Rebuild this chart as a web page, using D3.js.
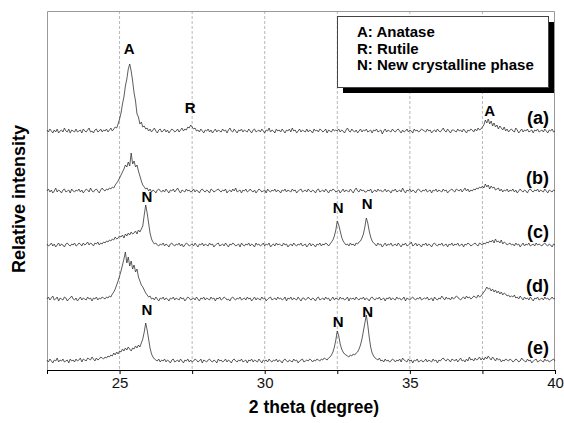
<!DOCTYPE html>
<html>
<head>
<meta charset="utf-8">
<script src="https://cdn.jsdelivr.net/npm/d3@7"></script>
<style>
  body { margin: 0; background: #fff; }
  svg { font-family: "Liberation Sans", Arial, sans-serif; }
</style>
</head>
<body>
<div id="chart"></div>
<script>
// 2 theta grid: 22.5 .. 40.0 in 0.05 degree steps (20 values per degree row)
const thetaStart = 22.5;
const thetaStep = 0.05;

// relative intensity (baseline removed)
const traceA = [
  1,-1,2,0,-2,1,-1,2,-2,0,1,-1,3,0,-1,2,-2,1,0,-1,
  2,-1,0,1,-2,2,0,-1,1,3,-1,0,-2,1,2,-1,0,2,-1,1,
  0,2,-1,1,3,0,2,4,3,7,12,18,27,34,45,52,62,67,60,50,
  38,30,17,14,7,9,4,5,2,3,0,2,-1,1,3,0,-2,1,2,-1,
  0,2,-1,1,-2,0,2,1,-1,0,2,-1,1,3,0,2,1,4,3,6,
  4,2,3,0,1,-1,2,0,-2,1,0,2,-1,1,-2,0,2,-1,1,0,
  -1,2,0,1,-2,1,3,0,-1,2,0,-2,1,0,2,-1,1,0,-1,2,
  0,-2,1,2,-1,0,1,-1,2,0,-2,1,0,3,-1,1,0,-2,2,0,
  1,-1,2,0,-2,1,0,2,-1,3,0,1,-2,0,2,-1,1,0,-1,2,
  -1,1,0,-2,2,0,1,-1,2,1,-1,0,2,-2,1,0,-1,2,0,1,
  0,2,-1,1,0,-2,1,3,0,-1,2,0,-1,1,-2,0,2,-1,1,0,
  2,-1,0,1,-2,1,0,2,-1,0,1,-3,0,2,-1,1,0,-1,2,0,
  -1,1,2,0,-2,1,-1,0,2,-1,1,0,-2,2,0,1,-1,0,2,1,
  0,-1,2,0,1,-2,0,1,-1,2,0,-1,1,3,0,-1,2,0,-2,1,
  1,0,-1,2,0,1,-1,2,0,-2,1,0,2,1,-1,2,0,3,1,2,
  4,6,11,8,12,7,10,5,8,4,6,2,5,3,1,4,0,2,-1,1,
  2,0,-1,3,1,-2,0,2,-1,1,0,2,-1,0,1,-2,1,0,2,-1,
  0,1,-1,2,0,-2,1,0,2,-1,0
];
const traceB = [
  0,2,-1,1,-2,0,3,-1,1,0,-2,1,2,-1,0,1,-2,2,0,-1,
  1,0,2,-1,1,-2,0,2,1,-1,3,0,-1,1,2,0,-2,1,3,1,
  0,2,1,3,2,4,3,6,8,10,13,16,19,22,26,24,29,25,38,27,
  30,24,26,20,15,10,6,4,2,3,0,2,-1,1,0,-2,1,2,0,-1,
  1,-1,2,0,-2,1,0,2,-1,1,3,0,-2,1,0,-1,2,0,1,-1,
  0,2,-1,1,0,-2,1,2,0,-1,1,0,-2,2,1,-1,0,1,2,0,
  -1,1,0,2,-2,0,1,-1,2,0,3,-1,0,1,-2,1,0,2,-1,0,
  2,0,-1,1,-2,0,2,1,-1,0,1,-2,2,0,-1,1,0,2,-1,1,
  0,-2,1,0,2,-1,1,0,-1,2,0,1,-2,0,1,2,-1,0,1,-1,
  2,0,-1,1,0,-2,1,2,-1,0,1,-1,2,0,-2,1,0,2,1,-1,
  0,1,-2,0,2,-1,1,0,-1,2,0,-2,1,3,0,-1,2,0,1,-1,
  -1,1,0,2,-2,0,1,-1,2,0,1,-1,0,2,-1,1,0,-2,1,0,
  2,-1,0,1,-1,3,0,-2,1,0,2,-1,1,0,-2,1,2,0,-1,1,
  0,2,-1,0,1,-2,1,0,2,-1,1,0,-1,2,0,1,-2,0,1,2,
  0,-1,2,1,0,2,-1,1,3,0,2,-1,1,0,2,1,3,2,4,3,
  5,3,7,4,6,2,5,3,4,1,2,3,0,2,-1,1,0,2,-1,1,
  0,2,-1,1,-2,0,2,0,-1,1,0,-2,1,2,0,-1,1,0,2,-1,
  1,0,-1,2,0,-2,1,0,-1,1,0
];
const traceC = [
  1,-1,0,2,-1,1,-2,0,2,-1,1,0,-2,1,2,0,-1,1,0,2,
  -1,0,2,1,-1,2,0,1,3,0,2,1,-1,2,1,3,0,2,1,3,
  2,4,3,5,4,6,5,8,6,7,9,8,10,7,11,9,12,10,13,11,
  12,14,11,15,13,16,19,30,40,32,22,12,6,3,1,2,0,-1,1,0,
  2,-1,1,0,-2,1,2,0,-1,1,0,2,-1,1,-2,0,2,1,-1,0,
  1,-1,2,0,-2,1,0,2,-1,1,0,-1,2,0,1,-2,0,1,2,-1,
  0,1,-1,2,0,-2,1,0,2,1,-1,0,1,-2,2,0,-1,1,0,2,
  -1,1,0,-2,2,0,1,-1,0,2,-1,1,0,2,-2,0,1,-1,2,0,
  1,0,-1,2,0,1,-2,0,1,-1,2,0,-1,1,0,2,-1,0,1,-2,
  0,2,-1,1,0,-2,1,0,2,-1,1,0,2,1,-1,1,3,5,9,15,
  24,20,14,8,4,2,0,1,-1,2,0,1,-1,2,1,3,4,7,11,18,
  27,22,14,8,4,2,1,-1,2,0,1,-2,0,2,-1,1,0,2,-1,0,
  1,-1,2,0,-2,1,0,2,-1,0,1,3,-1,0,2,-1,1,0,-2,1,
  0,2,-1,1,0,-2,1,2,0,-1,1,0,2,-1,0,1,-2,1,0,2,
  -1,1,0,2,-1,0,1,-2,1,0,2,1,-1,0,1,2,0,-1,2,1,
  0,2,1,3,2,4,3,5,2,6,3,4,2,5,1,3,2,0,1,2,
  0,1,-1,2,0,1,-2,0,2,-1,1,0,2,-1,0,1,-1,2,0,1,
  0,-1,1,2,0,-1,1,0,-2,1,0
];
const traceD = [
  0,2,-1,1,3,-1,0,2,-2,1,0,-1,2,1,-2,0,1,3,0,-1,
  1,-2,0,2,-1,1,0,-1,2,0,1,-2,1,0,2,-1,1,0,2,1,
  0,2,1,3,2,5,7,10,14,18,23,28,34,40,47,36,42,33,38,30,
  34,27,30,22,18,14,12,9,6,4,2,3,0,1,-1,2,0,-2,1,0,
  2,-1,1,0,-2,1,0,2,-1,1,0,-1,2,0,1,-2,0,2,1,-1,
  0,1,-1,2,0,-2,1,0,2,-1,1,0,-1,2,0,1,-2,1,0,2,
  -1,0,2,1,-1,0,-2,1,2,0,-1,1,0,2,-1,0,1,-1,2,0,
  1,-2,0,2,-1,1,0,-1,2,0,1,-2,0,1,2,-1,0,1,-1,2,
  0,1,-1,0,2,-2,1,0,2,-1,1,0,-1,2,0,-2,1,1,-1,0,
  2,0,-1,1,0,-2,1,2,-1,0,1,-1,2,0,1,-2,0,2,-1,1,
  0,-1,2,0,1,-1,0,2,-2,1,0,1,-1,2,0,-1,1,0,2,-1,
  1,0,-2,1,2,0,-1,1,0,2,-1,0,1,-2,1,0,2,-1,1,0,
  -1,2,0,1,-1,0,2,-2,1,0,-1,1,2,0,-1,1,0,2,-1,0,
  1,0,2,-1,0,1,-2,2,0,-1,1,0,3,1,-1,2,0,1,-1,2,
  0,1,3,2,0,-1,1,2,0,3,1,2,0,1,3,2,1,4,2,3,
  5,7,9,12,10,11,8,10,7,9,6,8,5,7,4,6,5,3,4,2,
  3,2,4,1,2,0,3,1,-1,2,0,1,-1,2,0,-2,1,0,2,-1,
  0,1,-1,2,0,1,-1,0,2,0,1
];
const traceE = [
  1,-1,2,0,-2,1,0,3,-1,1,0,2,-1,0,1,-2,2,0,1,-1,
  2,0,1,3,-1,2,1,0,3,2,1,4,2,0,3,1,2,4,3,2,
  4,3,5,4,6,5,8,6,9,7,10,9,12,10,13,11,14,12,10,13,
  12,15,13,16,14,18,22,29,38,31,22,13,7,4,2,1,0,2,-1,1,
  0,2,-1,1,0,-2,1,2,-1,0,1,-1,2,0,-2,1,0,2,-1,1,
  -1,0,2,1,-1,0,2,-2,1,0,-1,1,2,0,-1,1,0,-2,2,0,
  1,-1,0,2,-1,1,0,-2,1,2,0,-1,1,0,2,-1,0,1,-2,1,
  0,2,-1,1,0,-1,2,0,-2,1,0,1,-1,2,0,-1,1,0,2,-1,
  1,0,-2,1,2,0,-1,1,0,-1,2,0,1,-2,0,1,2,-1,0,1,
  0,2,1,-1,1,0,2,1,0,2,1,3,2,1,3,4,6,9,14,21,
  30,25,17,12,9,7,6,5,4,6,5,7,6,8,9,12,16,22,30,38,
  46,36,24,14,8,5,3,2,1,3,0,1,-1,2,0,1,-1,0,2,1,
  -1,1,0,2,-1,3,1,0,-1,2,0,1,-2,1,0,2,-1,0,1,-1,
  0,2,-1,1,0,-1,2,0,1,-2,1,0,2,3,1,0,2,1,-1,2,
  1,0,2,-1,1,3,0,1,-1,2,0,4,1,2,0,3,1,2,4,1,
  3,1,4,2,5,3,1,4,2,0,3,1,2,-1,1,0,2,1,0,2,
  1,-1,0,2,1,-1,0,3,1,0,-1,2,0,1,-2,0,1,2,-1,0,
  1,0,-1,2,0,1,-1,0,1,2,0
];

const traces = [traceA, traceB, traceC, traceD, traceE];
const traceNames = ["(a)", "(b)", "(c)", "(d)", "(e)"];
const traceOffsets = [239, 179, 125, 71, 9];

// peak markers: trace index, 2 theta, height above that trace's baseline
const peakText = ["A", "R", "A", "N", "N", "N", "N", "N", "N"];
const peakTrace = [0, 0, 0, 2, 2, 2, 4, 4, 4];
const peakTheta = [25.33, 27.43, 37.75, 25.94, 32.53, 33.53, 25.94, 32.53, 33.55];
const peakHeight = [77, 18, 15, 43, 32, 36, 46, 34, 44];

const legendLines = ["A: Anatase", "R: Rutile", "N: New crystalline phase"];
const xTicks = [22.5, 25, 27.5, 30, 32.5, 35, 37.5, 40];
const xLabelTicks = [25, 30, 35, 40];
const gridLines = [25, 27.5, 30, 32.5, 35, 37.5];

const W = 564, H = 423;
const mLeft = 47, mRight = 555, mTop = 11, mBottom = 370;

const svg = d3.select("#chart").append("svg")
  .attr("width", W)
  .attr("height", H);

const x = d3.scaleLinear().domain([22.5, 40]).range([mLeft, mRight]);
const y = d3.scaleLinear().domain([0, mBottom - mTop]).range([mBottom, mTop]);

// dashed vertical grid
svg.append("g")
  .selectAll("line")
  .data(gridLines)
  .enter()
  .append("line")
  .attr("x1", d => x(d)).attr("x2", d => x(d))
  .attr("y1", mTop).attr("y2", mBottom)
  .attr("stroke", "#b8b8b8")
  .attr("stroke-dasharray", "3,2")
  .attr("stroke-width", 1);

// frame (top, left, right)
svg.append("path")
  .attr("d", `M${mLeft + 0.5},${mBottom} V${mTop + 0.5} H${mRight - 0.5} V${mBottom}`)
  .attr("fill", "none")
  .attr("stroke", "#999")
  .attr("stroke-width", 1);

// traces
const line = d3.line()
  .x((d, i) => x(thetaStart + i * thetaStep))
  .y(d => d);

svg.append("g")
  .selectAll("path")
  .data(traces)
  .enter()
  .append("path")
  .attr("d", (t, k) => line(t.map(v => y(traceOffsets[k] + v))))
  .attr("fill", "none")
  .attr("stroke", "#333")
  .attr("stroke-width", 0.8);

// x axis
const xAxis = d3.axisBottom(x)
  .tickValues(xTicks)
  .tickSize(4)
  .tickPadding(3)
  .tickFormat(d => xLabelTicks.includes(d) ? d : "");

const ax = svg.append("g")
  .attr("transform", `translate(0,${mBottom})`)
  .call(xAxis);
ax.select(".domain").attr("stroke", "#000");
ax.selectAll(".tick line").attr("stroke", "#000");
ax.selectAll("text")
  .attr("font-family", "Liberation Sans, Arial, sans-serif")
  .attr("font-size", 15)
  .attr("fill", "#111");

// axis titles
svg.append("text")
  .attr("x", 314)
  .attr("y", 413)
  .attr("text-anchor", "middle")
  .attr("font-size", 17.5)
  .attr("font-weight", "bold")
  .text("2 theta (degree)");

svg.append("text")
  .attr("transform", "translate(25,199) rotate(-90)")
  .attr("text-anchor", "middle")
  .attr("font-size", 18)
  .attr("font-weight", "bold")
  .text("Relative intensity");

// trace names on the right
svg.append("g")
  .selectAll("text")
  .data(traceNames)
  .enter()
  .append("text")
  .attr("x", 549)
  .attr("y", (d, k) => y(traceOffsets[k] + 7))
  .attr("text-anchor", "end")
  .attr("font-size", 18)
  .attr("font-weight", "bold")
  .text(d => d);

// peak letters
svg.append("g")
  .selectAll("text")
  .data(peakText)
  .enter()
  .append("text")
  .attr("x", (d, i) => x(peakTheta[i]))
  .attr("y", (d, i) => y(traceOffsets[peakTrace[i]] + peakHeight[i]))
  .attr("text-anchor", "middle")
  .attr("font-size", 15)
  .attr("font-weight", "bold")
  .text(d => d);

// legend box with drop shadow
const lg = svg.append("g");
lg.append("rect")
  .attr("x", 343).attr("y", 22)
  .attr("width", 211).attr("height", 71)
  .attr("fill", "#000");
lg.append("rect")
  .attr("x", 337.5).attr("y", 16.5)
  .attr("width", 211).attr("height", 71)
  .attr("fill", "#fff")
  .attr("stroke", "#444")
  .attr("stroke-width", 1);
lg.selectAll("text")
  .data(legendLines)
  .enter()
  .append("text")
  .attr("x", 357)
  .attr("y", (d, i) => 37 + i * 16.5)
  .attr("font-size", 15)
  .attr("font-weight", "bold")
  .text(d => d);
</script>
</body>
</html>
